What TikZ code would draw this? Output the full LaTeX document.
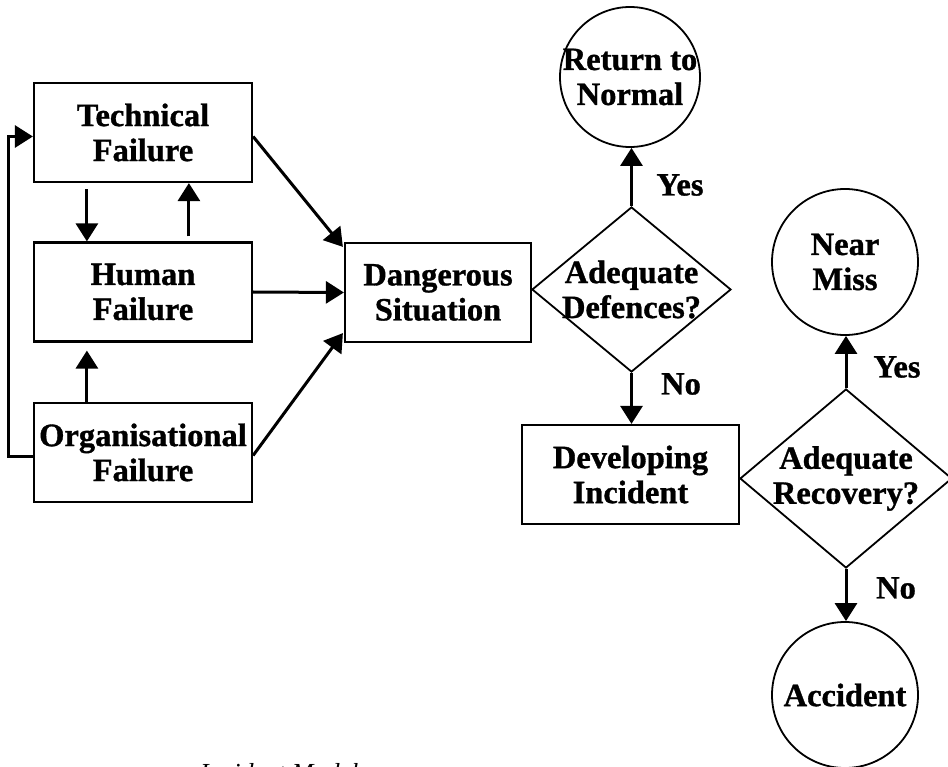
\documentclass[tikz,border=0pt]{standalone}
\usepackage{fontspec}
\setmainfont{Liberation Serif}[BoldFeatures={FakeBold=1}]
\usetikzlibrary{shapes.geometric,arrows.meta}
\begin{document}
\begin{tikzpicture}[x=1pt,y=-1pt,
  txt/.style={font=\bfseries\fontsize{32.5}{35}\selectfont, align=center},
  boxnode/.style={draw, line width=2.2pt, minimum width=218pt, minimum height=99pt, inner sep=0pt, txt},
  circnode/.style={draw, circle, line width=1.8pt, inner sep=0pt},
  dianode/.style={draw, diamond, line width=1.8pt, inner sep=0pt},
  arr/.style={line width=3pt, -{Triangle[length=18pt,width=22pt]}}
]
\useasboundingbox (0,0) rectangle (948,767);
\clip (0,0) rectangle (948,767);

% left column
\node[boxnode] (tech) at (143,132.5) {Technical\\Failure};
\node[boxnode] (hum) at (143,292) {Human\\Failure};
\node[boxnode] (org) at (143,452.5) {Organisational\\Failure};

% dangerous situation
\node[boxnode, minimum width=186pt] (dang) at (438,292.5) {Dangerous\\Situation};

% defences diamond
\node[dianode, minimum width=199pt, minimum height=165pt,
      label={[txt]center:Adequate\\Defences?}] (def) at (631.5,289.5) {};

% return to normal
\node[circnode, minimum size=140pt,
      label={[txt]center:Return to\\Normal}] (ret) at (630,77) {};

% developing incident
\node[boxnode, minimum width=217pt] (dev) at (630.5,474.5) {Developing\\Incident};

% recovery diamond
\node[dianode, minimum width=212pt, minimum height=179pt,
      label={[txt]center:Adequate\\Recovery?}] (rec) at (846,478.5) {};

% near miss, accident
\node[circnode, minimum size=146pt,
      label={[txt]center:Near\\Miss}] (near) at (845,262) {};
\node[circnode, minimum size=146pt,
      label={[txt]center:Accident}] (acc) at (845,695) {};

% labels
\node[txt] (yes1) at (680,185) {Yes};
\node[txt] (no1) at (681,384) {No};
\node[txt] (yes2) at (897,367) {Yes};
\node[txt] (no2) at (896,588) {No};

% caption (cut off at the bottom edge, as in the reference)
\node[anchor=base west, inner sep=0pt, font=\itshape\fontsize{26}{30}\selectfont] (cap) at (200,781) {Incident Model};

% connectors, left column
\draw[arr] ([xshift=54pt,yshift=-6pt]tech.south west) -- ([xshift=54pt]hum.north west);
\draw[arr] ([xshift=156pt,yshift=5pt]hum.north west) -- ([xshift=156pt]tech.south west);
\draw[arr] ([xshift=54pt]org.north west) -- ([xshift=54pt,yshift=-8pt]hum.south west);
\draw[arr] ([yshift=-4pt]org.west) -- ++(-24,0) |- ([yshift=-4pt]tech.west);

% into dangerous situation
\draw[arr] ([yshift=-4pt]tech.east) -- ([xshift=-1pt,yshift=-5pt]dang.north west);
\draw[arr] (hum.east) -- (dang.west);
\draw[arr] ([yshift=-3pt]org.east) -- ([xshift=-1pt,yshift=10pt]dang.south west);

% decisions
\draw[arr] (def.north) -- (def.north |- ret.south);
\draw[arr] (def.south) -- (def.south |- dev.north);
\draw[arr] (rec.north) -- (rec.north |- near.south);
\draw[arr] (rec.south) -- (rec.south |- acc.north);
\end{tikzpicture}
\end{document}
